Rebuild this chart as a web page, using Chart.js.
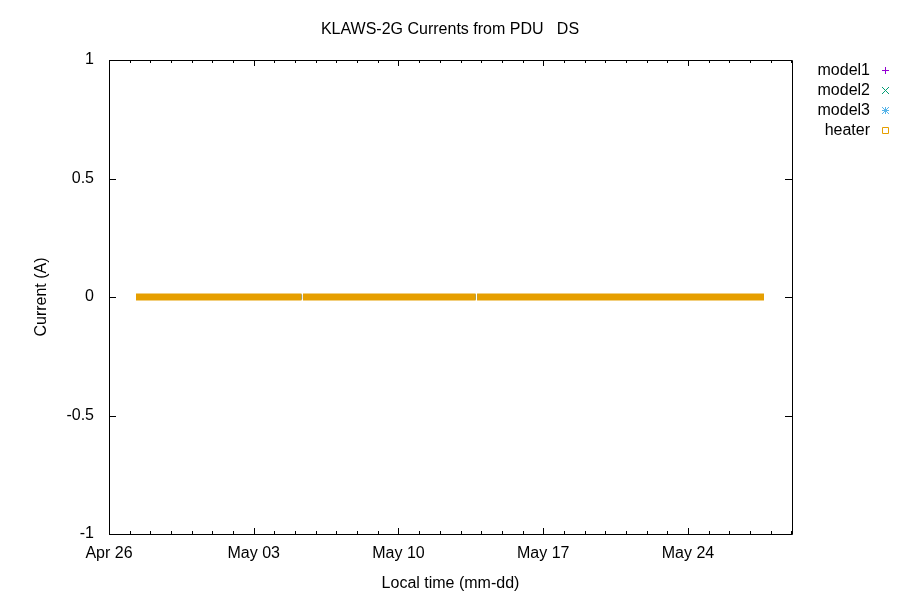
<!DOCTYPE html>
<html>
<head>
<meta charset="utf-8">
<script src="https://cdn.jsdelivr.net/npm/chart.js@4.4.1/dist/chart.umd.min.js"></script>
<style>
  body { margin: 0; background: #fff; }
  #c { display: block; }
</style>
</head>
<body>
<canvas id="c" width="900" height="600"></canvas>
<script>
// days since Apr 26 00:00 (local time)
var xMin = 0;
var xMax = 33.03;
var majorTickDays = [0, 7, 14, 21, 28];
var tickLabels = ["Apr 26", "May 03", "May 10", "May 17", "May 24"];
var yTicks = [-1, -0.5, 0, 0.5, 1];

// logged samples: three runs separated by short gaps
var sampleTime = [1.306, 9.31, 9.345, 9.38, 17.73, 17.765, 17.80, 31.675];
var model1 = [0, 0, null, 0, 0, null, 0, 0];
var model2 = [0, 0, null, 0, 0, null, 0, 0];
var model3 = [0, 0, null, 0, 0, null, 0, 0];
var heater = [0, 0, null, 0, 0, null, 0, 0];

var seriesNames = ["model1", "model2", "model3", "heater"];
var seriesColors = ["#9400d3", "#009e73", "#56b4e9", "#e69f00"];
var seriesValues = [model1, model2, model3, heater];

var FONT = "Liberation Sans, Arial, sans-serif";

function toPoints(vals) {
  return sampleTime.map(function (t, i) { return { x: t, y: vals[i] }; });
}

var datasets = seriesNames.map(function (name, i) {
  var last = i === seriesNames.length - 1;
  return {
    label: name,
    data: toPoints(seriesValues[i]),
    borderColor: seriesColors[i],
    backgroundColor: seriesColors[i],
    borderWidth: last ? 7 : 5,
    borderCapStyle: "butt",
    pointRadius: 0,
    spanGaps: false,
    tension: 0,
    order: seriesNames.length - 1 - i, // later series painted on top, like gnuplot
  };
});

// gnuplot style frame: border box, inward ticks on all four sides, legend on right
var framePlugin = {
  id: "frame",
  afterDatasetsDraw: function (chart) {
    var ctx = chart.ctx;
    var a = chart.chartArea;
    var xs = chart.scales.x;
    var ys = chart.scales.y;
    ctx.save();
    ctx.strokeStyle = "#000";
    ctx.lineWidth = 1;
    ctx.beginPath();
    ctx.rect(Math.round(a.left) + 0.5, Math.round(a.top) + 0.5,
      Math.round(a.right - a.left), Math.round(a.bottom - a.top));
    ctx.stroke();

    ctx.beginPath();
    for (var d = 0; d <= Math.floor(xMax); d++) {
      var len = majorTickDays.indexOf(d) >= 0 ? 6 : 3;
      var px = Math.round(xs.getPixelForValue(d)) + 0.5;
      ctx.moveTo(px, a.bottom);
      ctx.lineTo(px, a.bottom - len);
      ctx.moveTo(px, a.top);
      ctx.lineTo(px, a.top + len);
    }
    yTicks.forEach(function (v) {
      var py = Math.round(ys.getPixelForValue(v)) + 0.5;
      ctx.moveTo(a.left, py);
      ctx.lineTo(a.left + 7, py);
      ctx.moveTo(a.right, py);
      ctx.lineTo(a.right - 7, py);
    });
    ctx.stroke();

    // legend
    ctx.font = "16px " + FONT;
    ctx.textAlign = "right";
    ctx.textBaseline = "middle";
    ctx.fillStyle = "#000";
    seriesNames.forEach(function (name, i) {
      var y = 70 + i * 20;
      ctx.fillText(name, 870, y + 1);
      var mx = 885.5, my = y + 0.5, r = 3.5;
      ctx.strokeStyle = seriesColors[i];
      ctx.lineWidth = 1;
      ctx.beginPath();
      if (i === 0 || i === 2) {
        ctx.moveTo(mx - r, my); ctx.lineTo(mx + r, my);
        ctx.moveTo(mx, my - r); ctx.lineTo(mx, my + r);
      }
      if (i === 1 || i === 2) {
        ctx.moveTo(mx - r, my - r); ctx.lineTo(mx + r, my + r);
        ctx.moveTo(mx - r, my + r); ctx.lineTo(mx + r, my - r);
      }
      if (i === 3) {
        ctx.rect(mx - 3, my - 3, 6, 6);
      }
      ctx.stroke();
    });
    ctx.restore();
  },
};

new Chart("c", {
  type: "line",
  data: { datasets: datasets },
  plugins: [framePlugin],
  options: {
    responsive: false,
    animation: false,
    devicePixelRatio: 1,
    layout: { padding: 0 },
    plugins: {
      legend: { display: false },
      tooltip: { enabled: false },
      title: {
        display: true,
        text: "KLAWS-2G Currents from PDU   DS",
        color: "#000",
        font: { family: FONT, size: 16, weight: "normal", lineHeight: 1.2 },
        padding: { top: 20.4, bottom: 20.4 },
      },
    },
    scales: {
      x: {
        type: "linear",
        min: xMin,
        max: xMax,
        afterFit: function (s) { s.height = 66; },
        afterBuildTicks: function (s) {
          s.ticks = majorTickDays.map(function (v) { return { value: v }; });
        },
        grid: { display: false, drawTicks: false },
        border: { display: false },
        ticks: {
          color: "#000",
          font: { family: FONT, size: 16 },
          padding: 10,
          maxRotation: 0,
          autoSkip: false,
          callback: function (v) {
            var i = majorTickDays.indexOf(v);
            return i >= 0 ? tickLabels[i] : "";
          },
        },
        title: {
          display: true,
          text: "Local time (mm-dd)",
          color: "#000",
          font: { family: FONT, size: 16, lineHeight: 1.2 },
          padding: { top: 0, bottom: 6.4 },
        },
      },
      y: {
        type: "linear",
        min: -1,
        max: 1,
        afterFit: function (s) { s.width = 109; },
        afterBuildTicks: function (s) {
          s.ticks = yTicks.map(function (v) { return { value: v }; });
        },
        grid: { display: false, drawTicks: false },
        border: { display: false },
        ticks: {
          color: "#000",
          font: { family: FONT, size: 16 },
          padding: 15,
          callback: function (v) { return String(v); },
        },
        title: {
          display: true,
          text: "Current (A)",
          color: "#000",
          font: { family: FONT, size: 16, lineHeight: 1.2 },
          padding: { top: 32, bottom: 0 },
        },
      },
      // empty right axis that reserves the space used by the key
      yKey: {
        type: "linear",
        position: "right",
        min: -1,
        max: 1,
        afterFit: function (s) { s.width = 108; },
        grid: { display: false, drawTicks: false },
        border: { display: false },
        ticks: { display: false },
      },
    },
  },
});
</script>
</body>
</html>
